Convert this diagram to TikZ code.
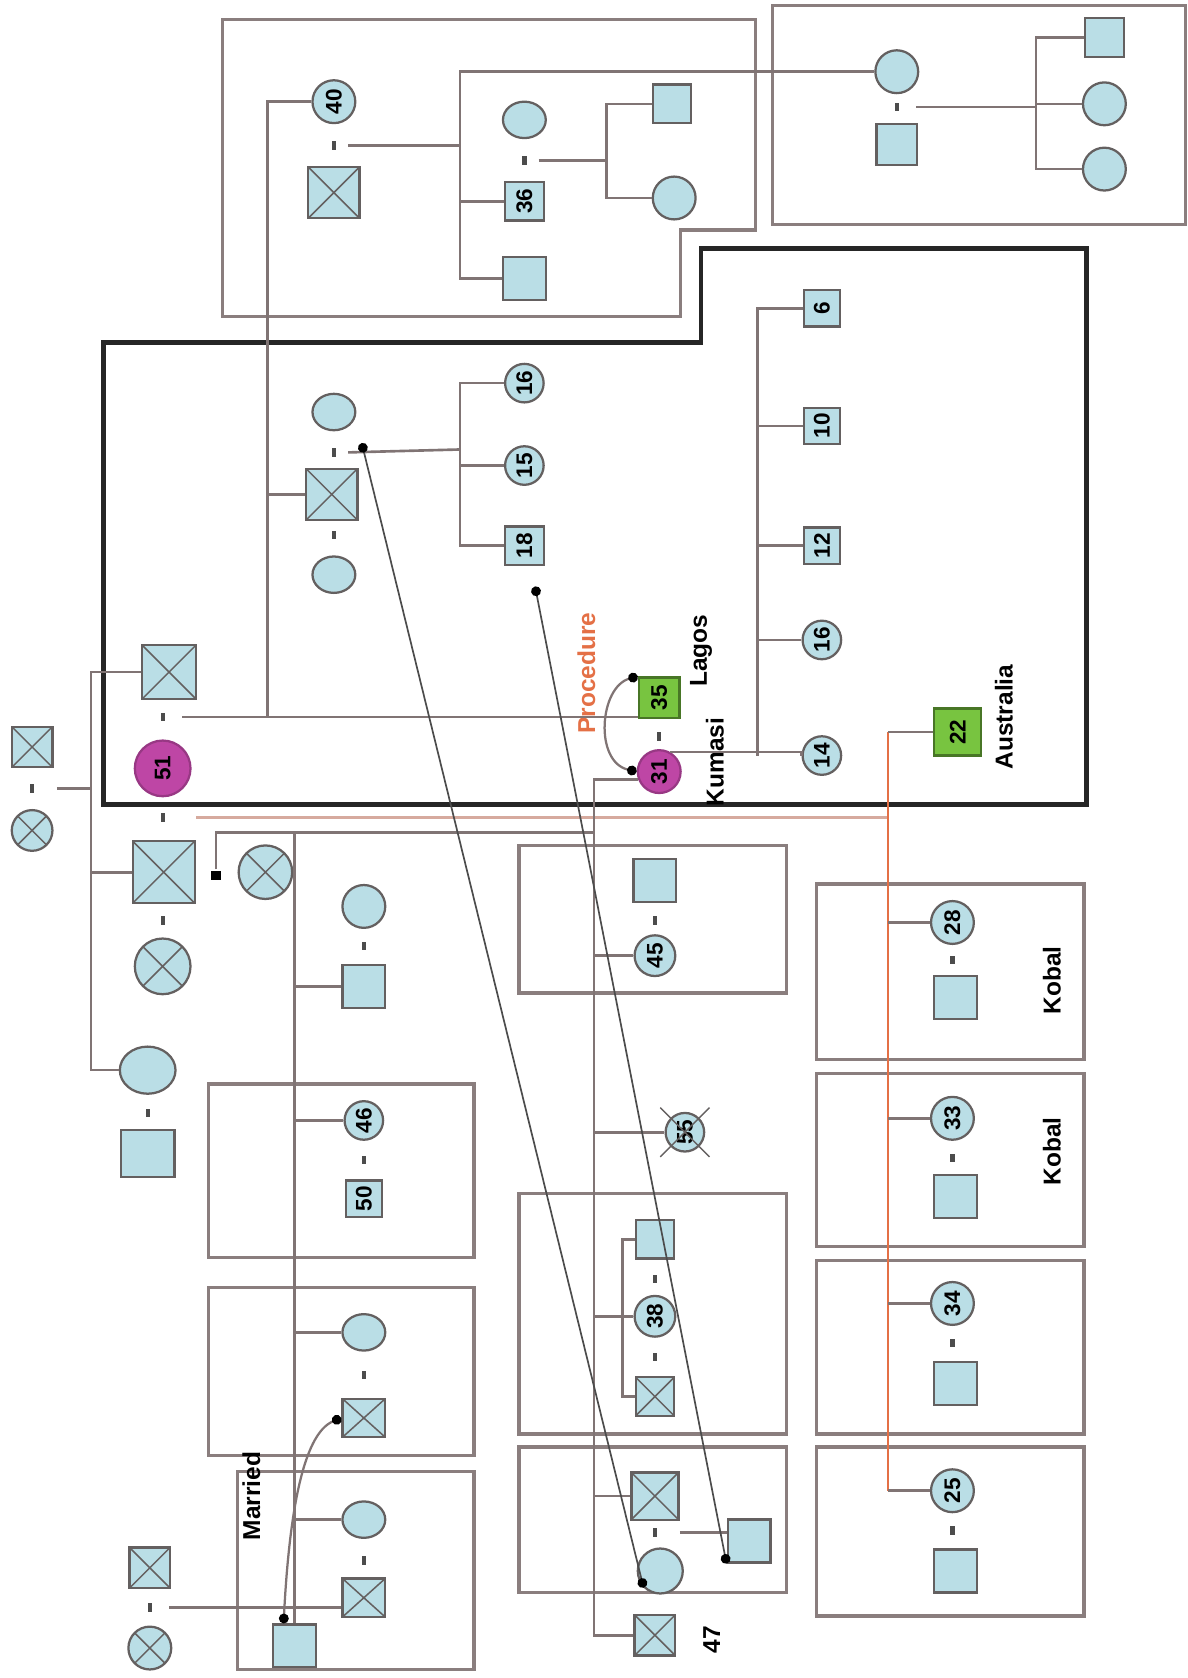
\documentclass[tikz,border=0pt]{standalone}
\usepackage{fontspec}
\setmainfont{Liberation Sans}
\usepackage{tikz}
\usetikzlibrary{shapes.geometric,arrows.meta}

\definecolor{pFill}{RGB}{186,222,230}
\definecolor{pEdge}{RGB}{100,96,96}
\definecolor{boxGray}{RGB}{138,126,126}
\definecolor{lineGray}{RGB}{128,116,116}
\definecolor{relOrange}{RGB}{228,112,70}
\definecolor{relPink}{RGB}{214,170,158}
\definecolor{wifePurple}{RGB}{190,70,165}
\definecolor{idGreen}{RGB}{120,196,64}

\begin{document}
\begin{tikzpicture}[x=0.01cm, y=-0.01cm, line width=0.7pt,
  male/.style={rectangle, draw=pEdge, fill=pFill, line width=0.6pt,
    minimum size=#1, inner sep=0pt},
  male/.default=0.38cm,
  female/.style={circle, draw=pEdge, fill=pFill, line width=0.6pt,
    minimum size=#1, inner sep=0pt},
  female/.default=0.38cm,
  oval/.style={ellipse, draw=pEdge, fill=pFill, line width=0.6pt,
    minimum width=0.40cm, minimum height=0.34cm, inner sep=0pt},
  dead/.style={path picture={
    \draw[pEdge, line width=0.4pt]
      (path picture bounding box.south west) -- (path picture bounding box.north east)
      (path picture bounding box.north west) -- (path picture bounding box.south east);}},
  num/.style={label={[rotate=90, inner sep=0pt,
    font=\fontsize{6}{6}\selectfont\bfseries]center:#1}},
  wed/.style={fill=black!70, minimum width=0.04cm, minimum height=0.08cm, inner sep=0pt},
  famBox/.style={draw=boxGray, line width=0.9pt},
  kinLine/.style={draw=lineGray, line width=0.7pt},
  tieLine/.style={draw=black!70, line width=0.45pt,
    {Circle[length=2.6pt,color=black]}-{Circle[length=2.6pt,color=black]}},
  arcTie/.style={tieLine, draw=lineGray, line width=0.6pt},
  tag/.style={rotate=90, font=\fontsize{6.5}{6.5}\selectfont\bfseries}
]
\useasboundingbox (0,0) rectangle (1110,1568);

% household boxes
\draw[famBox] (208,18) -- (706,18) -- (706,215) -- (636,215) -- (636,296) -- (208,296) -- cycle;
\draw[famBox] (722,5) rectangle (1108,210);
\draw[draw=black!85, line width=1.3pt] (97,320) -- (655,320) -- (655,232) -- (1015,232)
  -- (1015,752) -- (97,752) -- cycle;
\draw[famBox] (195,1013) rectangle (443,1175);
\draw[famBox] (195,1203) rectangle (443,1360);
\draw[famBox] (222,1375) rectangle (443,1560);
\draw[famBox] (485,790) rectangle (735,928);
\draw[famBox] (485,1115) rectangle (735,1340);
\draw[famBox] (485,1352) rectangle (735,1488);
\draw[famBox] (763,826) rectangle (1013,990);
\draw[famBox] (763,1003) rectangle (1013,1165);
\draw[famBox] (763,1178) rectangle (1013,1340);
\draw[famBox] (763,1352) rectangle (1013,1510);

% grandparents
\node[male, dead] (gpM) at (30,698) {};
\node[wed] (gpW) at (30,737) {};
\node[female, dead] (gpF) at (30,776) {};
\coordinate (gpBus) at (85,737);

% their children
\node[male=0.50cm, dead] (sonA) at (158,628) {};
\node[wed] (wedA) at (152,670) {};
\node[female=0.52cm, fill=wifePurple, draw=wifePurple!80!black, num=51] (wifeA) at (152,718) {};
\node[wed] (wedB) at (152,764) {};
\node[male=0.58cm, dead] (sonB) at (153,815) {};
\node[wed] (wedB2) at (152,860) {};
\node[female=0.52cm, dead] (wifeB2) at (152,903) {};
\node[wed, fill=black, minimum width=0.09cm, minimum height=0.09cm] (wedB3) at (202,818) {};
\node[female=0.50cm, dead] (wifeB3) at (248,815) {};
\node[oval, minimum width=0.52cm, minimum height=0.44cm] (dauC) at (138,1000) {};
\node[wed] (wedC) at (138,1040) {};
\node[male, minimum width=0.50cm, minimum height=0.44cm] (husC) at (138,1078) {};

% aunt and her family
\node[female=0.40cm, num=40] (auntA) at (312,95) {};
\node[wed] (wedAA) at (312,136) {};
\node[male=0.48cm, dead] (husAA) at (312,180) {};
\coordinate (busAA) at (430,136);
\node[oval] (cousAW) at (490,112) {};
\node[wed] (wedCA) at (490,150) {};
\node[male=0.36cm, num=36] (cousA) at (490,188) {};
\coordinate (busCA) at (567,150);
\node[male=0.36cm] (kidA1) at (628,97) {};
\node[female=0.40cm] (kidA2) at (630,185) {};
\node[male=0.40cm] (cousB) at (490,260) {};

% cousin married into the other family
\node[female=0.40cm] (cousF) at (838,67) {};
\node[wed] (wedTR) at (838,100) {};
\node[male] (cousFM) at (838,135) {};
\coordinate (busTR) at (968,100);
\node[male=0.36cm] (kidT1) at (1032,35) {};
\node[female=0.40cm] (kidT2) at (1032,97) {};
\node[female=0.40cm] (kidT3) at (1032,158) {};

% uncle with two wives
\node[oval] (ubW1) at (312,385) {};
\node[wed] (wedUB1) at (312,423) {};
\node[male=0.48cm, dead] (uncleB) at (310,462) {};
\node[wed] (wedUB2) at (312,500) {};
\node[oval] (ubW2) at (312,537) {};
\coordinate (busUB) at (430,420);
\node[female=0.36cm, num=16] (kidU1) at (490,358) {};
\node[female=0.36cm, num=15] (kidU2) at (490,435) {};
\node[male=0.36cm, num=18] (kidU3) at (490,510) {};

% index couple
\node[male, fill=idGreen, draw=idGreen!60!black, num=35] (idM) at (616,652) {};
\node[wed] (wedId) at (616,688) {};
\node[female=0.40cm, fill=wifePurple, draw=wifePurple!80!black, num=31] (idF) at (616,721) {};
\coordinate (busId) at (708,706);
\node[male=0.34cm, num=6] (kid6) at (768,288) {};
\node[male=0.34cm, num=10] (kid10) at (768,398) {};
\node[male=0.34cm, num=12] (kid12) at (768,510) {};
\node[female=0.36cm, num=16] (kid16) at (768,598) {};
\node[female=0.36cm, num=14] (kid14) at (768,706) {};
\node[tag, text=relOrange] (procTxt) at (548,629) {Procedure};
\node[tag] (lagosTxt) at (655,608) {Lagos};
\node[tag] (kumasiTxt) at (668,712) {Kumasi};

% relative in Australia
\node[male=0.44cm, fill=idGreen, draw=idGreen!60!black, num=22] (ausId) at (895,684) {};
\node[tag] (ausTxt) at (938,670) {Australia};
\coordinate (ausBus) at (830,764);
\node[female=0.40cm, num=28] (aus28) at (890,862) {};
\node[wed] (wedG) at (890,897) {};
\node[male=0.40cm] (aus28M) at (893,932) {};
\node[tag] (kobalTxt1) at (983,916) {Kobal};
\node[female=0.40cm, num=33] (aus33) at (890,1045) {};
\node[wed] (wedH) at (890,1082) {};
\node[male=0.40cm] (aus33M) at (893,1118) {};
\node[tag] (kobalTxt2) at (983,1076) {Kobal};
\node[female=0.40cm, num=34] (aus34) at (890,1218) {};
\node[wed] (wedI) at (890,1255) {};
\node[male=0.40cm] (aus34M) at (893,1293) {};
\node[female=0.40cm, num=25] (aus25) at (890,1393) {};
\node[wed] (wedJ) at (890,1430) {};
\node[male=0.40cm] (aus25M) at (893,1468) {};

% children of the second son, left column
\coordinate (busL) at (275,778);
\node[female=0.40cm] (lWf) at (340,847) {};
\node[wed] (wedL1) at (340,884) {};
\node[male=0.40cm] (lSq) at (340,922) {};
\node[female=0.36cm, num=46] (l46) at (340,1047) {};
\node[wed] (wedL2) at (340,1084) {};
\node[male=0.34cm, num=50] (l50) at (340,1120) {};
\node[oval] (lB) at (340,1245) {};
\node[wed] (wedL3) at (340,1285) {};
\node[male=0.36cm, minimum width=0.40cm, dead] (lBM) at (340,1325) {};
\node[oval] (lC) at (340,1420) {};
\node[wed] (wedL4) at (340,1458) {};
\node[male=0.36cm, minimum width=0.40cm, dead] (lCM) at (340,1493) {};
\node[male=0.40cm] (lEnd) at (275,1538) {};
\node[male, dead] (blM) at (140,1465) {};
\node[wed] (blW) at (140,1502) {};
\node[female=0.40cm, dead] (blF) at (140,1540) {};
\node[tag] (marriedTxt) at (235,1398) {Married};

% children of the second son, right column
\coordinate (busR) at (555,778);
\node[male=0.40cm] (mD) at (612,823) {};
\node[wed] (wedD) at (612,860) {};
\node[female=0.38cm, num=45] (m45) at (612,893) {};
\node[female=0.36cm, num=55] (m55) at (640,1058) {};
\draw[pEdge, line width=0.4pt] (m55.center) +(-23,-23) -- +(23,23) +(-23,23) -- +(23,-23);
\node[male=0.36cm] (mE) at (612,1158) {};
\node[wed] (wedE1) at (612,1195) {};
\node[female=0.38cm, num=38] (m38) at (612,1230) {};
\node[wed] (wedE2) at (612,1268) {};
\node[male=0.36cm, dead] (mEx) at (612,1305) {};
\node[male=0.44cm, dead] (mF) at (612,1398) {};
\node[wed] (wedF) at (612,1432) {};
\node[female=0.42cm] (mFw) at (617,1468) {};
\node[male=0.40cm] (mFs) at (700,1440) {};
\node[male, dead] (m47) at (612,1528) {};
\node[tag] (ageTxt) at (665,1532) {47};

% lines of descent
\draw[kinLine, shorten <=0.2cm] (gpW.east) -- (gpBus);
\draw[kinLine] (gpBus) |- (sonA.west);
\draw[kinLine] (gpBus) |- (sonB.west);
\draw[kinLine] (gpBus) |- (dauC.west);

\coordinate (busA) at (250,670);
\draw[kinLine, shorten <=0.15cm] (wedA.east) -- (idM.west |- wedA);
\draw[kinLine] (busA) |- (auntA.west);
\draw[kinLine] (busA) |- (uncleB.west);

\draw[kinLine, shorten <=0.1cm] (wedAA.east) -- (busAA);
\draw[kinLine] (busAA) |- (cousF.west);
\draw[kinLine] (busAA) |- (cousA.west);
\draw[kinLine] (busAA) |- (cousB.west);
\draw[kinLine, shorten <=0.1cm] (wedCA.east) -- (busCA);
\draw[kinLine] (busCA) |- (kidA1.west);
\draw[kinLine] (busCA) |- (kidA2.west);
\draw[kinLine, shorten <=0.15cm] (wedTR.east) -- (busTR);
\draw[kinLine] (busTR) |- (kidT1.west);
\draw[kinLine] (busTR) |- (kidT2.west);
\draw[kinLine] (busTR) |- (kidT3.west);

\draw[kinLine, shorten <=0.1cm] (wedUB1.east) -- (busUB);
\draw[kinLine] (busUB) |- (kidU1.west);
\draw[kinLine] (busUB) |- (kidU2.west);
\draw[kinLine] (busUB) |- (kidU3.west);

\draw[kinLine] (idF.60) -- (idF.60 -| kid14.west) -- (kid14.west);
\draw[kinLine] (busId) |- (kid6.west);
\draw[kinLine] (busId) |- (kid10.west);
\draw[kinLine] (busId) |- (kid12.west);
\draw[kinLine] (busId) |- (kid16.west);

\draw[relPink, line width=0.9pt, shorten <=0.28cm] (wedB.east) -- (ausBus);
\draw[relOrange, line width=0.5pt] (ausId.west -| ausBus) -- (ausBus |- aus25.west);
\draw[kinLine] (ausId.west) -- (ausId.west -| ausBus);
\draw[kinLine] (ausBus |- aus28.west) -- (aus28.west);
\draw[kinLine] (ausBus |- aus33.west) -- (aus33.west);
\draw[kinLine] (ausBus |- aus34.west) -- (aus34.west);
\draw[kinLine] (ausBus |- aus25.west) -- (aus25.west);

\draw[kinLine] (wedB3) -- (wedB3 |- busR) -- (busR);
\draw[kinLine] (busL) -- (lEnd.north);
\draw[kinLine] (busL) |- (lSq.west);
\draw[kinLine] (busL) |- (l46.west);
\draw[kinLine] (busL) |- (lB.west);
\draw[kinLine] (busL) |- (lC.west);
\draw[kinLine, shorten <=0.15cm] (blW.east) -- (lCM.west |- blW);

\draw[kinLine] (idF.200) -- (idF.200 -| busR) |- (m47.west);
\draw[kinLine] (busR) |- (m45.west);
\draw[kinLine] (busR) |- (m55.west);
\draw[kinLine] (busR) |- (m38.west);
\draw[kinLine] (busR) |- (mF.west);
\draw[kinLine] (mE.west) -- ++(-11,0) |- (mEx.west);
\draw[kinLine, shorten <=0.2cm] (wedF.east) -- (mFs.west |- wedF);

% ties across the families
\coordinate (tieA) at (338,414);
\coordinate (tieB) at (500,548);
\draw[tieLine] (tieA) -- (mFw.south west);
\draw[tieLine] (tieB) -- (mFs.south west);
\draw[arcTie] (idM.north west) .. controls (560,642) and (555,712) .. (idF.west);
\draw[arcTie] ([xshift=-0.1cm]lEnd.north) .. controls (270,1420) and (282,1340) .. (lBM.west);

\end{tikzpicture}
\end{document}
